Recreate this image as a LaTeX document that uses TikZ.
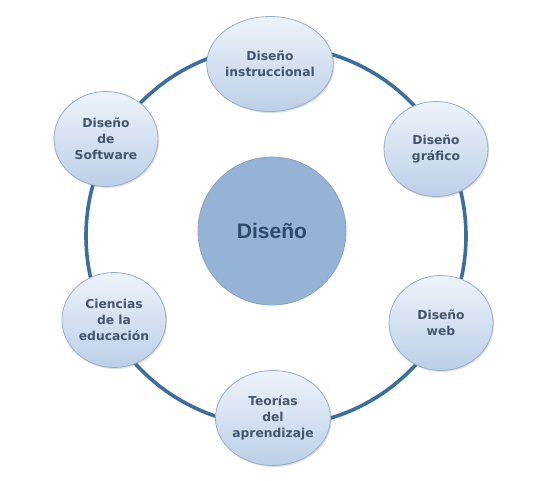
\documentclass[tikz,border=0pt]{standalone}
\usepackage{fontspec}
\setmainfont{Liberation Sans}
\newfontfamily\smallfont{DejaVu Sans}
\usetikzlibrary{shapes.geometric,shadows}
\definecolor{ringblue}{HTML}{3B6E9E}
\definecolor{centerfill}{HTML}{95B3D7}
\definecolor{centerdraw}{HTML}{8AA2C4}
\definecolor{centertext}{HTML}{2E4A6A}
\definecolor{smalltop}{HTML}{EEF3FA}
\definecolor{smallbot}{HTML}{BCCFE8}
\definecolor{smalldraw}{HTML}{97ADCA}
\definecolor{smalltext}{HTML}{44546A}
\tikzset{
  smallcirc/.style={ellipse, minimum width=104pt, minimum height=95pt, inner sep=0pt,
    top color=smalltop, bottom color=smallbot, draw=smalldraw, line width=0.8pt,
    drop shadow={opacity=0.25, shadow xshift=1.2pt, shadow yshift=-1.5pt},
    align=center, text=smalltext, font=\smallfont\fontsize{12.3}{16}\selectfont\bfseries},
  bigcirc/.style={circle, minimum size=148pt, inner sep=0pt, fill=centerfill,
    draw=centerdraw, line width=0.8pt, text=centertext,
    font=\fontsize{21}{24}\selectfont\bfseries},
  ringline/.style={draw=ringblue, line width=3.6pt}
}
\begin{document}
\begin{tikzpicture}[x=1pt,y=-1pt]
\useasboundingbox[fill=white] (0,0) rectangle (560,480);
\coordinate (rc) at (276,236);
\draw[ringline] (rc) circle[radius=190];
\node[bigcirc] (c) at (272,231) {Diseño};
\node[smallcirc] (n1) at (270,64) {Diseño\\instruccional};
\node[smallcirc] (n2) at (436,149) {Diseño\\gráfico};
\node[smallcirc] (n3) at (441,323) {Diseño\\web};
\node[smallcirc] (n4) at (273,418) {Teorías\\del\\aprendizaje};
\node[smallcirc] (n5) at (114,320) {Ciencias\\de la\\educación};
\node[smallcirc] (n6) at (106,139) {Diseño\\de\\Software};
\end{tikzpicture}
\end{document}
